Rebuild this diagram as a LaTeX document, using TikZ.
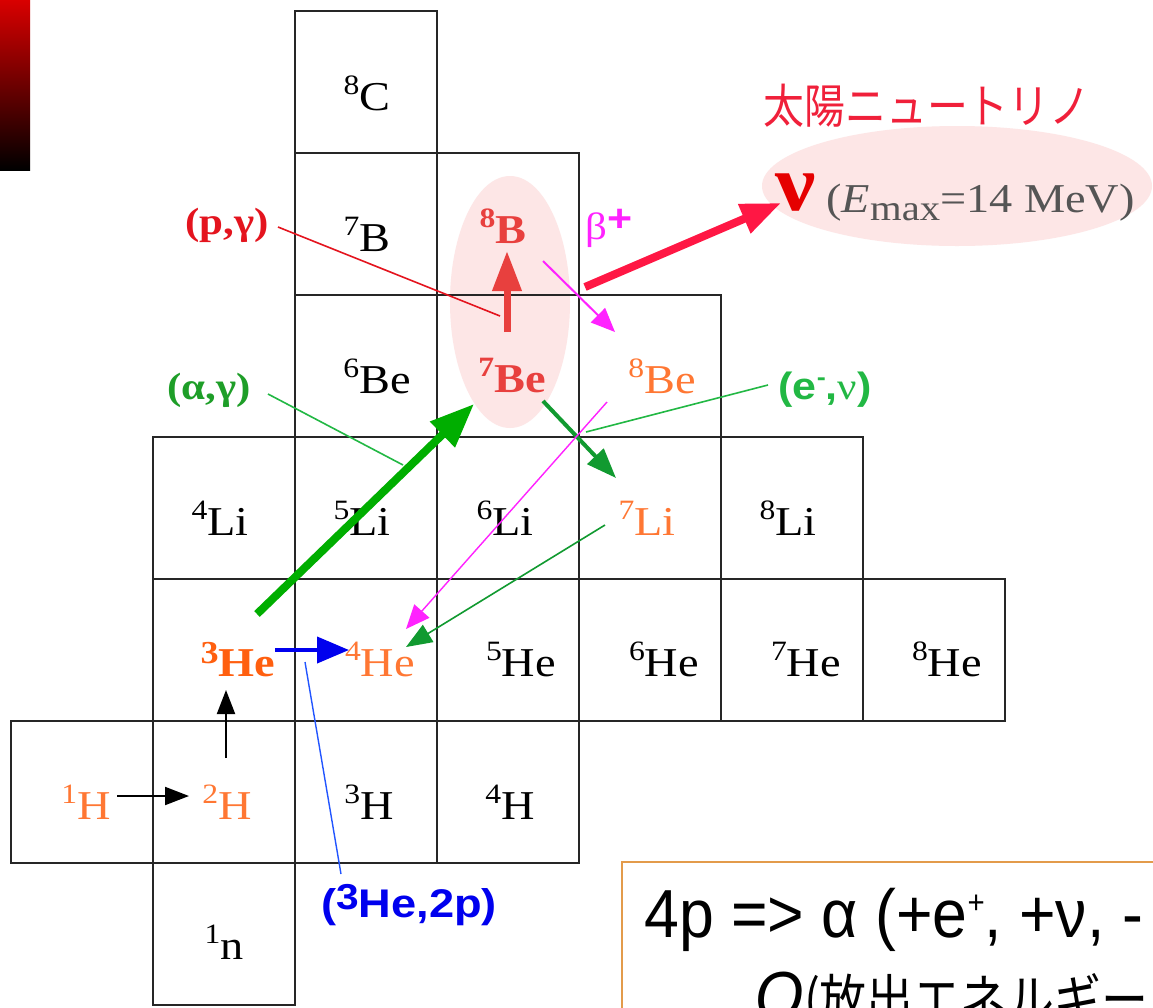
\documentclass[tikz,border=0pt]{standalone}
\usepackage{fontspec}
\setmainfont{Liberation Serif}
\newfontfamily\nucf[FakeStretch=1.13]{Liberation Serif}
\newfontfamily\sansf[FakeStretch=1.13]{Liberation Sans}
\newfontfamily\boxf[FakeStretch=0.92]{Liberation Sans}
\newfontfamily\jpf[FakeStretch=0.87]{Noto Sans CJK JP}
\usetikzlibrary{arrows.meta}
\definecolor{orn}{HTML}{FF7733}
\definecolor{ornb}{HTML}{FF5F0F}
\definecolor{rdn}{HTML}{E8403E}
\definecolor{rdl}{HTML}{E4141E}
\definecolor{crim}{HTML}{FF1744}
\definecolor{jpred}{HTML}{F0203A}
\definecolor{gbig}{HTML}{00AE00}
\definecolor{gdark}{HTML}{119A30}
\definecolor{glab}{HTML}{1E9E28}
\definecolor{glab2}{HTML}{22B844}
\definecolor{mag}{HTML}{FF22FF}
\definecolor{blu}{HTML}{0000EE}
\definecolor{blul}{HTML}{2255FF}
\definecolor{pinkf}{HTML}{FDE6E6}
\definecolor{boxc}{HTML}{E39B4B}
\definecolor{gry}{HTML}{555555}
\newcommand{\nucl}[2]{{\fontsize{14}{14}\selectfont\raisebox{8pt}{#1}}#2}
\newcommand{\nuclb}[2]{{\fontsize{16}{16}\selectfont\raisebox{6.5pt}{#1}}#2}
\begin{document}
\begin{tikzpicture}[x=0.5pt,y=-0.5pt,
  cell/.style={draw=black!85, line width=1.3pt, minimum width=71pt, minimum height=71pt, inner sep=0pt, outer sep=0pt},
  nuc/.style={anchor=base, inner sep=0pt, font=\nucf\fontsize{20.5}{22}\selectfont},
  lbl/.style={inner sep=0pt},
  thinar/.style={line width=1pt, -{Triangle[length=12pt,width=9pt]}},
]
\useasboundingbox (0,0) rectangle (1153,1008);
\fill[white] (0,0) rectangle (1153,1008);
\shade[top color=red!85!black, bottom color=black] (0,0) rectangle (30,170);

% pink ellipses
\fill[pinkf] (510,302) ellipse [x radius=60, y radius=126];
\fill[pinkf] (957,186) ellipse [x radius=195, y radius=60];

% cells
\node[cell] (cC8)  at (366,82) {};
\node[cell] (cB7)  at (366,224) {};
\node[cell] (cB8)  at (508,224) {};
\node[cell] (cBe6) at (366,366) {};
\node[cell] (cBe7) at (508,366) {};
\node[cell] (cBe8) at (650,366) {};
\node[cell] (cLi4) at (224,508) {};
\node[cell] (cLi5) at (366,508) {};
\node[cell] (cLi6) at (508,508) {};
\node[cell] (cLi7) at (650,508) {};
\node[cell] (cLi8) at (792,508) {};
\node[cell] (cHe3) at (224,650) {};
\node[cell] (cHe4) at (366,650) {};
\node[cell] (cHe5) at (508,650) {};
\node[cell] (cHe6) at (650,650) {};
\node[cell] (cHe7) at (792,650) {};
\node[cell] (cHe8) at (934,650) {};
\node[cell] (cH1)  at (82,792) {};
\node[cell] (cH2)  at (224,792) {};
\node[cell] (cH3)  at (366,792) {};
\node[cell] (cH4)  at (508,792) {};
\node[cell] (cn1)  at (224,934) {};

% nuclide labels
\node[nuc] (C8) at (367,110) {\nucl{8}{C}};
\node[nuc] (B7) at (367,251) {\nucl{7}{B}};
\node[nuc, text=rdn, font=\nucf\bfseries\fontsize{20.5}{22}\selectfont] (B8) at (503,243) {\nucl{8}{B}};
\node[nuc] (Be6) at (377,393) {\nucl{6}{Be}};
\node[nuc, text=rdn, font=\nucf\bfseries\fontsize{20.5}{22}\selectfont] (Be7) at (512,392) {\nucl{7}{Be}};
\node[nuc, text=orn] (Be8) at (662,393) {\nucl{8}{Be}};
\node[nuc] (Li4) at (220,535) {\nucl{4}{Li}};
\node[nuc] (Li5) at (362,535) {\nucl{5}{Li}};
\node[nuc] (Li6) at (505,535) {\nucl{6}{Li}};
\node[nuc, text=orn] (Li7) at (647,535) {\nucl{7}{Li}};
\node[nuc] (Li8) at (788,535) {\nucl{8}{Li}};
\node[nuc, text=ornb, font=\nucf\bfseries\fontsize{20.5}{22}\selectfont] (He3) at (238,676) {\nuclb{3}{He}};
\node[nuc, text=orn] (He4) at (380,676) {\nucl{4}{He}};
\node[nuc] (He5) at (521,676) {\nucl{5}{He}};
\node[nuc] (He6) at (664,676) {\nucl{6}{He}};
\node[nuc] (He7) at (806,676) {\nucl{7}{He}};
\node[nuc] (He8) at (947,676) {\nucl{8}{He}};
\node[nuc, text=orn] (H1) at (86,819) {\nucl{1}{H}};
\node[nuc, text=orn] (H2) at (227,819) {\nucl{2}{H}};
\node[nuc] (H3) at (369,819) {\nucl{3}{H}};
\node[nuc] (H4) at (510,819) {\nucl{4}{H}};
\node[nuc] (n1) at (224,959) {\nucl{1}{n}};

% reaction labels
\node[lbl, text=rdl, font=\nucf\bfseries\fontsize{19}{20}\selectfont] (lpg) at (227,225) {(p,γ)};
\node[lbl, text=glab, font=\nucf\bfseries\fontsize{19}{20}\selectfont] (lag) at (209,390) {(α,γ)};
\node[lbl, text=glab2, font=\sansf\bfseries\fontsize{19}{20}\selectfont] (lev) at (825,390) {(e\raisebox{7pt}{\fontsize{12}{12}\selectfont -},{\nucf\mdseries ν})};
\node[lbl, text=mag, font=\nucf\fontsize{19}{20}\selectfont] (lbp) at (609,228) {β\raisebox{4pt}{\sansf\bfseries +}};
\node[lbl, text=blu, font=\sansf\bfseries\fontsize{20}{21}\selectfont] (l2p) at (409,905) {(\raisebox{4pt}{\fontsize{18}{18}\selectfont 3}He,2p)};
\node[lbl, text=jpred, font=\jpf\fontsize{23.5}{24}\selectfont] (ljp) at (927,106) {太陽ニュートリノ};
\node[lbl, anchor=base, text=red!90!black, font=\nucf\bfseries\fontsize{40}{40}\selectfont] (lnu) at (796,210) {ν};
\node[lbl, anchor=base west, text=gry, font=\nucf\fontsize{20.5}{22}\selectfont] (lem) at (826,212) {({\itshape E}\raisebox{-4pt}{\fontsize{18}{18}\selectfont max}=14 MeV)};

% connector end points
\coordinate (a1s) at (117,796); \coordinate (a1e) at (189,796);
\coordinate (a2s) at (226,758); \coordinate (a2e) at (226,690);
\coordinate (a3s) at (275,650); \coordinate (a3e) at (349,650);
\coordinate (b1s) at (305,662); \coordinate (b1e) at (341,874);
\coordinate (g1s) at (257,614); \coordinate (g1e) at (474,404);
\coordinate (g2s) at (268,394); \coordinate (g2e) at (403,465);
\coordinate (r1s) at (507,332); \coordinate (r1e) at (507,251);
\coordinate (r2s) at (278,227); \coordinate (r2e) at (500,316);
\coordinate (m1s) at (543,261); \coordinate (m1e) at (615,332);
\coordinate (c1s) at (585,287); \coordinate (c1e) at (781,203);
\coordinate (g3s) at (543,401); \coordinate (g3e) at (616,478);
\coordinate (g4s) at (768,385); \coordinate (g4e) at (586,432);
\coordinate (m2s) at (607,402); \coordinate (m2e) at (406,629);
\coordinate (g5s) at (605,525); \coordinate (g5e) at (406,647);

% connectors
\draw[black, thinar] (a1s) -- (a1e);
\draw[black, thinar] (a2s) -- (a2e);
\draw[blu, line width=2pt, -{Triangle[length=16pt,width=13pt]}] (a3s) -- (a3e);
\draw[blul, line width=0.7pt] (b1s) -- (b1e);
\draw[gbig, line width=4pt, -{Triangle[length=22pt,width=17pt]}] (g1s) -- (g1e);
\draw[glab2, line width=0.8pt] (g2s) -- (g2e);
\draw[rdn, line width=3.5pt, -{Triangle[length=20pt,width=14pt]}] (r1s) -- (r1e);
\draw[rdl, line width=0.8pt] (r2s) -- (r2e);
\draw[mag, line width=1pt, -{Triangle[length=12pt,width=10pt]}] (m1s) -- (m1e);
\draw[crim, line width=4pt, -{Triangle[length=20pt,width=15pt]}] (c1s) -- (c1e);
\draw[gdark, line width=2pt, -{Triangle[length=15pt,width=11pt]}] (g3s) -- (g3e);
\draw[glab2, line width=0.8pt] (g4s) -- (g4e);
\draw[mag, line width=0.7pt, -{Triangle[length=12pt,width=10pt]}] (m2s) -- (m2e);
\draw[gdark, line width=0.8pt, -{Triangle[length=13pt,width=10pt]}] (g5s) -- (g5e);

% summary box (cut by the right and bottom edges)
\begin{scope}
\clip (0,0) rectangle (1153,1008);
\draw[boxc, line width=1.2pt] (622,862) rectangle (1250,1100);
\node[lbl, anchor=base west, font=\boxf\fontsize{34}{36}\selectfont] (t1) at (644,937) {4p => α (+e\raisebox{12pt}{\fontsize{16}{16}\selectfont +}, +ν, -};
\node[lbl, anchor=base west, font=\boxf\fontsize{34}{36}\selectfont] (t2) at (755,1019) {{\itshape Q}{\jpf\fontsize{27}{28}\selectfont (放出エネルギー}};
\end{scope}
\end{tikzpicture}
\end{document}
